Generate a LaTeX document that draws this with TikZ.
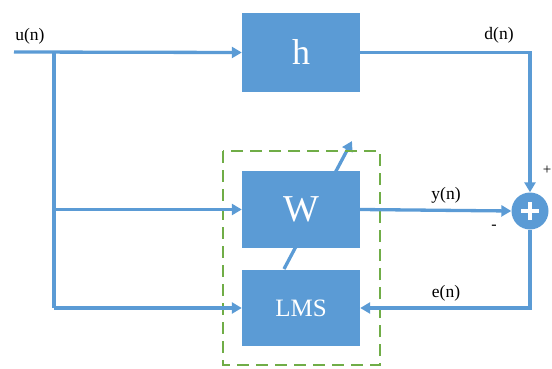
\documentclass[tikz,border=0pt]{standalone}
\usepackage{fontspec}
\setmainfont{Liberation Serif}
\usetikzlibrary{arrows.meta}
\definecolor{boxblue}{HTML}{5B9BD5}
\definecolor{dashgreen}{HTML}{70AD47}
\tikzset{
  blk/.style={fill=boxblue, draw=none, minimum width=118pt, inner sep=0pt, text=white},
  sig/.style={draw=boxblue, line width=3.3pt},
  sigarr/.style={sig, -{Triangle[width=11pt,length=10pt]}},
  lbl/.style={font=\fontsize{17.5}{19}\selectfont, inner sep=1pt},
}
\begin{document}
\begin{tikzpicture}[x=1pt,y=-1pt]
\useasboundingbox (0,0) rectangle (552,369);
% adaptation arrow, passes behind the W block
\coordinate (adS) at (284,269);
\coordinate (adE) at (352,141);
\draw[sigarr] (adS) -- (adE);
% blocks
\node[blk, minimum height=79pt, font=\fontsize{36}{36}\selectfont] (h) at (301,52.5) {h};
\node[blk, minimum height=77pt, font=\fontsize{38}{38}\selectfont] (W) at (301,209.5) {W};
\node[blk, minimum height=76pt, font=\fontsize{25}{25}\selectfont] (L) at (301,308) {LMS};
% adaptive filter boundary
\draw[dashgreen, line width=2.6pt, dash pattern=on 12pt off 7pt] (223,151) rectangle (380,365);
% summing junction
\node[circle, fill=boxblue, minimum size=37pt, inner sep=0pt] (S) at (530,211) {};
\draw[white, line width=3.6pt] ([xshift=-9pt]S.center) -- ([xshift=9pt]S.center)
  ([yshift=-9pt]S.center) -- ([yshift=9pt]S.center);
% input and branches
\coordinate (in) at (14,52);
\coordinate (br) at (54,52);
\coordinate (bW) at (54,209.5);
\coordinate (bL) at (54,308);
\draw[sigarr] (in) -- (h.west);
\draw[sig] (br) -- (bL);
\draw[sigarr] (bW) -- (W.west);
\draw[sigarr] (bL) -- (L.west);
% desired path
\draw[sigarr] (h.east) -| (S.north);
% filter output
\draw[sigarr] (W.east) -- (S.west);
% error feedback
\draw[sigarr] (S.south) |- (L.east);
% labels
\node[lbl] (un) at (30,36) {u(n)};
\node[lbl] (dn) at (499,35) {d(n)};
\node[lbl] (yn) at (446,195) {y(n)};
\node[lbl] (en) at (446,293) {e(n)};
\node[lbl, font=\fontsize{15}{15}\selectfont] (pl) at (547,170) {+};
\node[lbl, font=\fontsize{16}{16}\selectfont] (mi) at (494,227) {-};
\end{tikzpicture}
\end{document}
